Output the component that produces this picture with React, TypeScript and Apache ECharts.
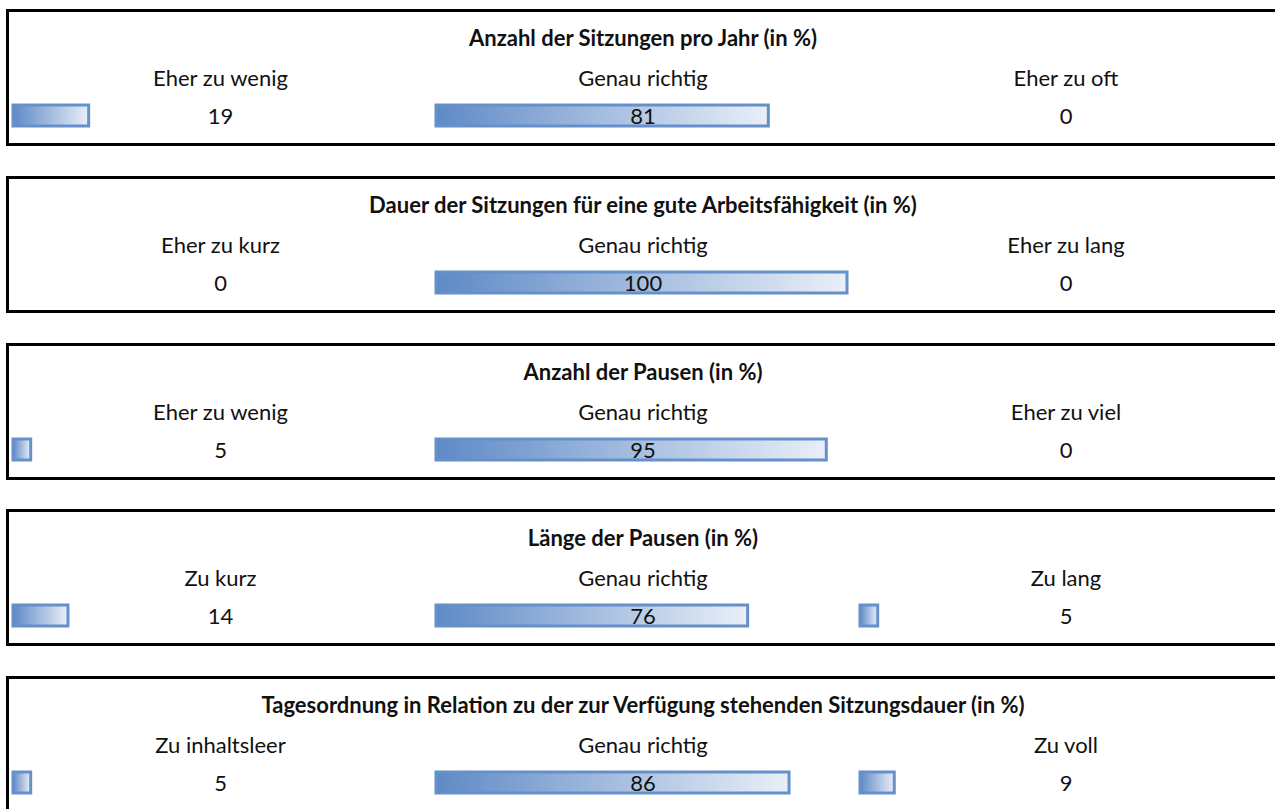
import React, { useEffect, useRef } from "react";
import * as echarts from "echarts";

const titles = [
  "Anzahl der Sitzungen pro Jahr (in %)",
  "Dauer der Sitzungen für eine gute Arbeitsfähigkeit (in %)",
  "Anzahl der Pausen (in %)",
  "Länge der Pausen (in %)",
  "Tagesordnung in Relation zu der zur Verfügung stehenden Sitzungsdauer (in %)",
];
const leftLabels = ["Eher zu wenig", "Eher zu kurz", "Eher zu wenig", "Zu kurz", "Zu inhaltsleer"];
const midLabels = ["Genau richtig", "Genau richtig", "Genau richtig", "Genau richtig", "Genau richtig"];
const rightLabels = ["Eher zu oft", "Eher zu lang", "Eher zu viel", "Zu lang", "Zu voll"];
const leftValues = [19, 0, 5, 14, 5];
const midValues = [81, 100, 95, 76, 86];
const rightValues = [0, 0, 0, 5, 9];

const FONT = "Lato";
const FS = 22;
const COL_LEFT = [11.5, 434.5, 858.5];
const COL_CENTER = [220.5, 643, 1066];
const BAR_W = 414;
const PANEL_PITCH = 166.75;
const PANEL_TOP0 = 9;

export default function App() {
  const ref = useRef<HTMLDivElement>(null);
  useEffect(() => {
    if (!ref.current) return;
    const chart = echarts.init(ref.current, undefined, { renderer: "svg" });
    const grids: any[] = [];
    const xAxes: any[] = [];
    const yAxes: any[] = [];
    const series: any[] = [];
    const graphics: any[] = [];
    const labelSets = [leftLabels, midLabels, rightLabels];
    const valueSets = [leftValues, midValues, rightValues];

    titles.forEach((title, p) => {
      const T = Math.round(PANEL_TOP0 + p * PANEL_PITCH);
      graphics.push({
        type: "rect",
        shape: { x: 7.5, y: T + 1.5, width: 1400, height: 134 },
        style: { fill: "none", stroke: "#000", lineWidth: 3 },
        silent: true,
      });
      graphics.push({
        type: "text",
        x: COL_CENTER[1],
        y: T + 28,
        style: {
          text: title,
          font: `bold ${FS}px ${FONT}`,
          fill: "#111",
          textAlign: "center",
          textVerticalAlign: "middle",
        },
      });
      for (let c = 0; c < 3; c++) {
        graphics.push({
          type: "text",
          x: COL_CENTER[c],
          y: T + 68,
          style: {
            text: labelSets[c][p],
            font: `${FS}px ${FONT}`,
            fill: "#111",
            textAlign: "center",
            textVerticalAlign: "middle",
          },
        });
        const idx = grids.length;
        const v = valueSets[c][p];
        grids.push({ left: COL_LEFT[c], top: T + 94, width: BAR_W, height: 25 });
        xAxes.push({ gridIndex: idx, type: "value", min: 0, max: 100, show: false });
        yAxes.push({ gridIndex: idx, type: "category", data: [""], show: false });
        series.push({
          type: "bar",
          xAxisIndex: idx,
          yAxisIndex: idx,
          data: [
            {
              value: v,
              itemStyle:
                v === 0 ? { borderWidth: 0, borderColor: "transparent", color: "transparent" } : {},
            },
          ],
          barWidth: 24,
          itemStyle: {
            color: new echarts.graphic.LinearGradient(0, 0, 1, 0, [
              { offset: 0, color: "#5F8AC6" },
              { offset: 1, color: "#E9EFF8" },
            ]),
            borderColor: "#6690C9",
            borderWidth: 3,
          },
          label: {
            show: true,
            position: [COL_CENTER[c] - COL_LEFT[c], 11.5],
            align: "center",
            verticalAlign: "middle",
            fontFamily: FONT,
            fontSize: FS,
            color: "#111",
          },
        });
      }
    });

    chart.setOption({
      animation: false,
      grid: grids,
      xAxis: xAxes,
      yAxis: yAxes,
      series,
      graphic: graphics,
    });
    return () => chart.dispose();
  }, []);
  return (
    <div
      ref={ref}
      style={{ position: "fixed", left: 0, top: 0, width: 1275, height: 809, background: "#fff" }}
    />
  );
}
